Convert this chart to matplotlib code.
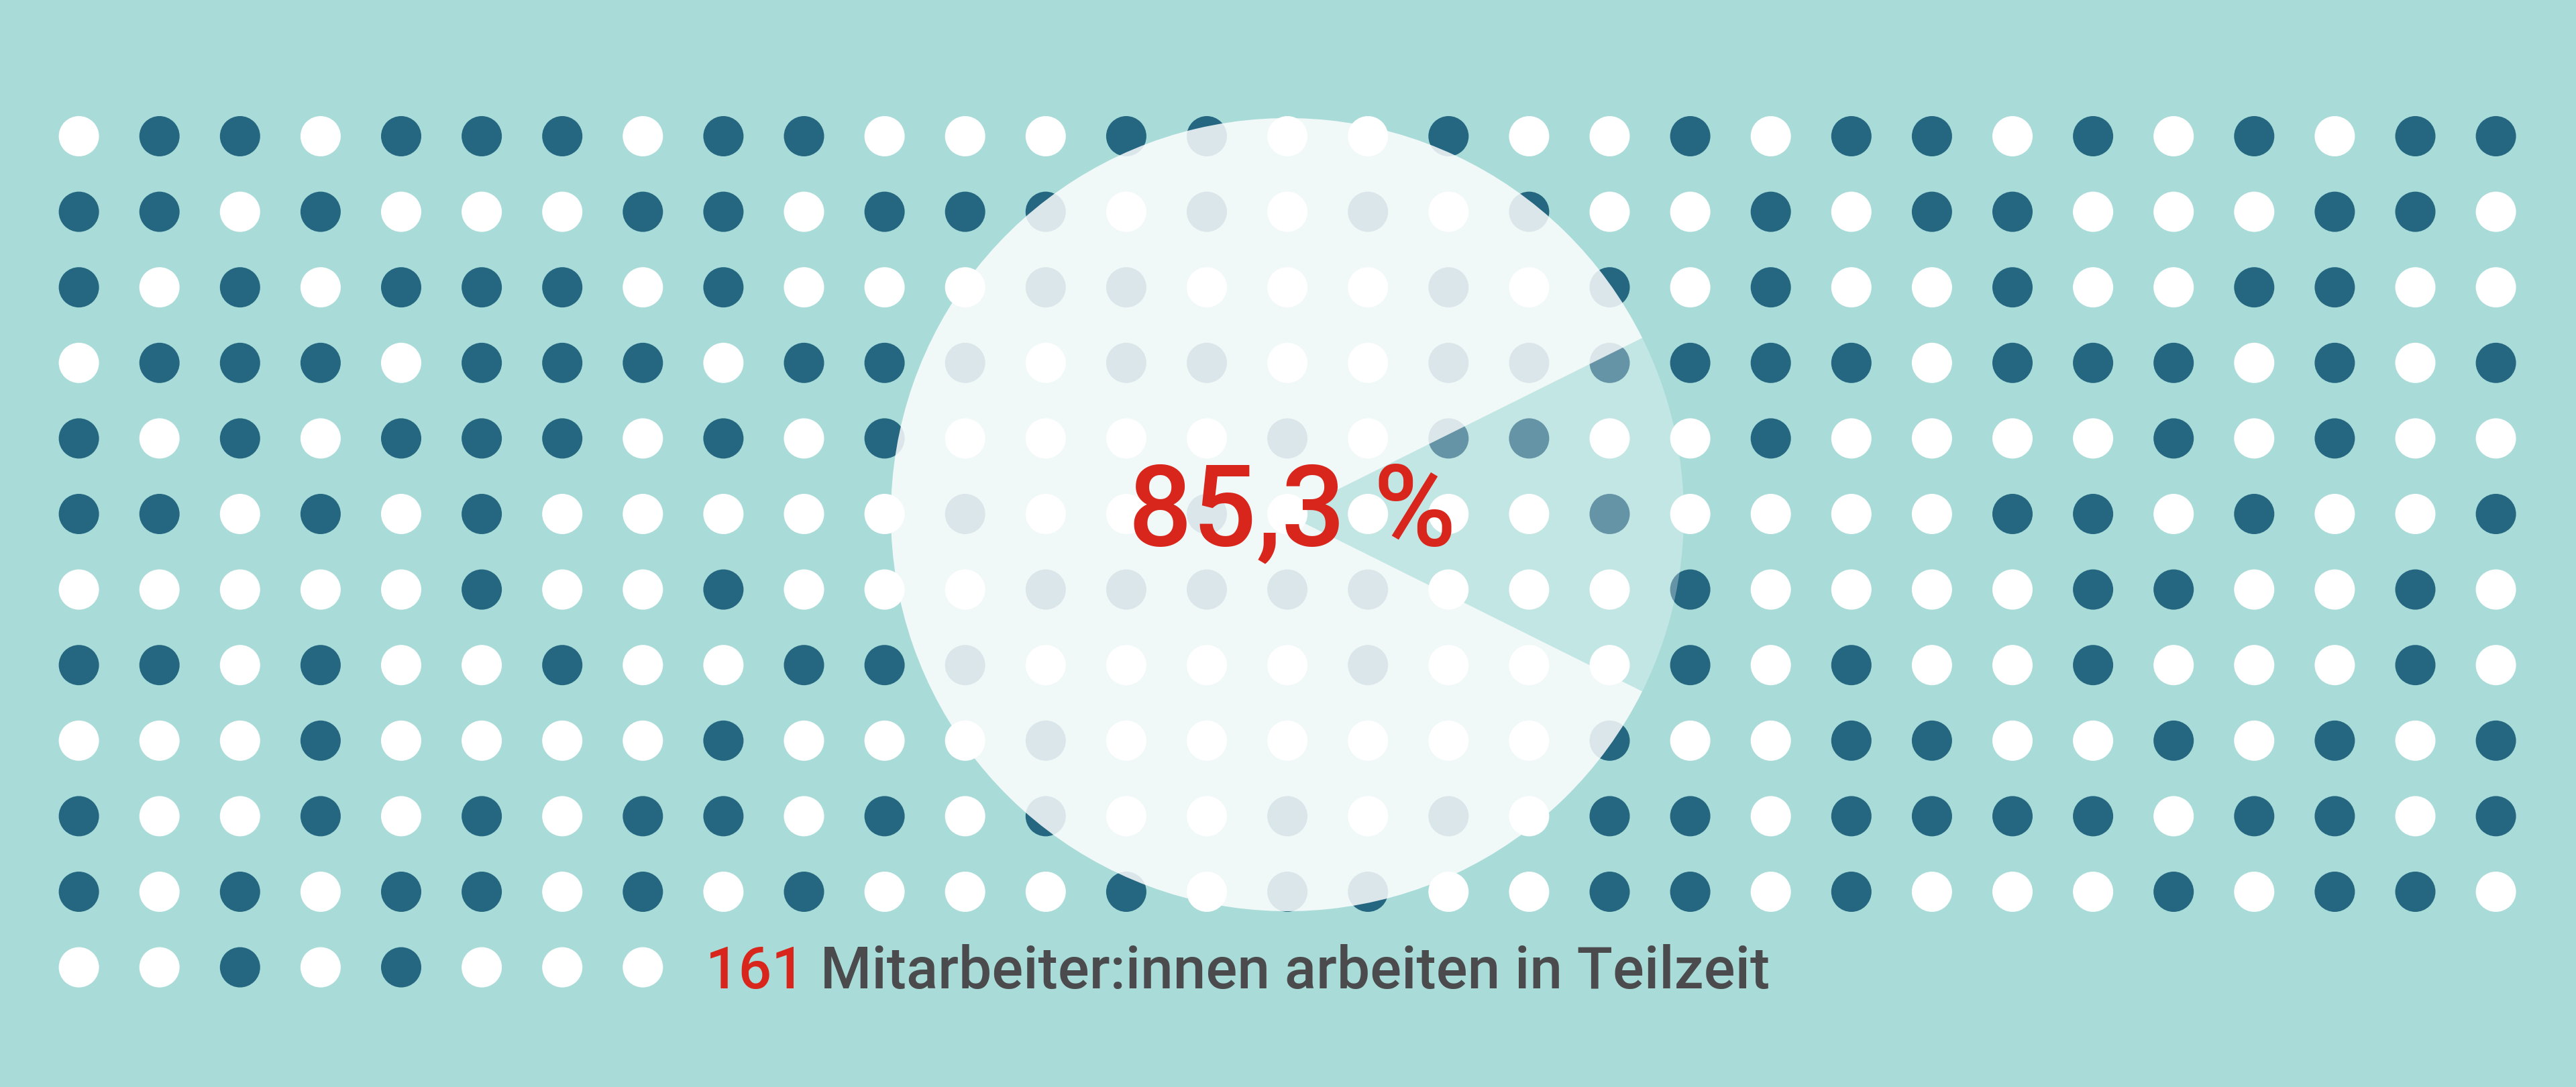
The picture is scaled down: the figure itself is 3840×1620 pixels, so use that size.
import numpy as np
import matplotlib
matplotlib.use("Agg")
from matplotlib import pyplot as plt

# dot grid, 1 = dark dot, 0 = white dot (read row by row, left to right)
dot_rows = [
    "01101110110" + "0011001001" + "0110101011",
    "11010001101" + "1101010100" + "1011000110",
    "10101110100" + "0110001010" + "1001001100",
    "01110111011" + "1011001111" + "1101110101",
    "10101110101" + "0000101100" + "1000010100",
    "11010100000" + "1001000010" + "0001101001",
    "00000100100" + "0111110001" + "0000110010",
    "11010010011" + "1000010001" + "0100100010",
    "00010000100" + "0100000010" + "0110010101",
    "10010101101" + "0100101011" + "0111101101",
    "10101101010" + "0010110011" + "0100010110",
    "00101000",
]

share = 85.3
share_label = "85,3 %"
count_label = "161"
caption = " Mitarbeiter:innen arbeiten in Teilzeit"

bg = "#a9dcd8"
dark = "#256781"
red = "#d9261c"
grey = "#4b4b4d"

W, H = 3840, 1620
fig = plt.figure(figsize=(W / 100, H / 100), dpi=100, facecolor=bg)
ax = fig.add_axes([0, 0, 1, 1])
ax.set_facecolor(bg)

# grid layout in pixels
x0, dx = 117.6, 120.1
y0, dy = 203, 112.6
dot_d = 60

xs, ys, cs = [], [], []
for r, row in enumerate(dot_rows):
    for c, v in enumerate(row):
        xs.append(x0 + c * dx)
        ys.append(H - (y0 + r * dy))
        cs.append(dark if v == "1" else "white")

ax.scatter(xs, ys, s=(dot_d * 72 / 100) ** 2, c=cs, linewidths=0, zorder=1)

# translucent pie on top
cx, cy, rad = 1919, H - 767, 591
rest = 100 - share
wedges, _ = ax.pie([share, rest], center=(cx, cy), radius=rad,
                   startangle=rest * 3.6 / 2, counterclock=True,
                   colors=[(1, 1, 1, 0.84), (1, 1, 1, 0.3)],
                   wedgeprops={"linewidth": 0})
for w in wedges:
    w.set_zorder(3)

ax.set_xlim(0, W)
ax.set_ylim(0, H)
ax.set_aspect("equal")
ax.set_axis_off()

ax.text(1926, H - 813, share_label, ha="center", va="baseline",
        fontsize=121, color=red, fontweight="medium", family="Roboto", zorder=5)

t1 = ax.text(1052, H - 1473, count_label, ha="left", va="baseline",
             fontsize=63, color=red, fontweight="medium", family="Roboto", zorder=5)
ax.annotate(caption, xy=(1, 0), xycoords=t1, ha="left", va="bottom",
            fontsize=63, color=grey, fontweight="medium", family="Roboto", zorder=5)

fig.savefig("out.png", dpi=100, facecolor=bg)
